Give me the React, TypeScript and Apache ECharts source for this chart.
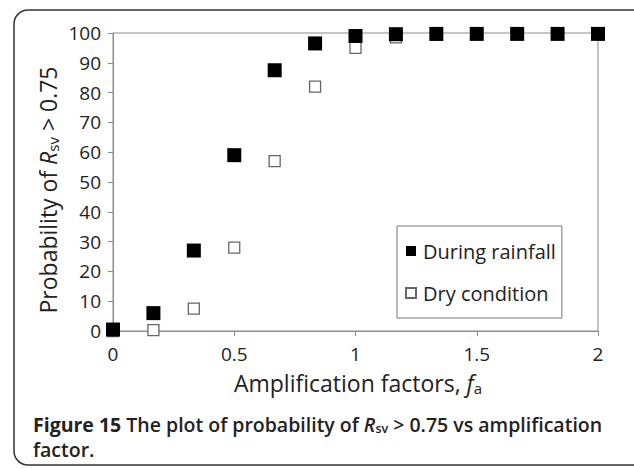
import React, { useEffect, useRef } from "react";
import * as echarts from "echarts";

const xValues = [0, 1 / 6, 2 / 6, 3 / 6, 4 / 6, 5 / 6, 1, 7 / 6, 8 / 6, 9 / 6, 10 / 6, 11 / 6, 2];
const rainfall = [0.5, 6, 27, 59, 87.5, 96.5, 99, 99.6, 99.7, 99.7, 99.7, 99.7, 99.7];
const dry = [0, 0.3, 7.5, 28, 57, 82, 95, 98.5, 99.5, 99.7, 99.7, 99.7, 99.7];
const xTicks = [0, 0.5, 1, 1.5, 2];
const seriesNames = ["During rainfall", "Dry condition"];

const FONT = "'Open Sans', 'Noto Sans', sans-serif";

export default function App() {
  const ref = useRef<HTMLDivElement>(null);
  useEffect(() => {
    if (!ref.current) return;
    const chart = echarts.init(ref.current, null, { renderer: "svg" });
    const option: any = {
      animation: false,
      backgroundColor: "#fff",
      textStyle: { fontFamily: FONT },
      grid: {
        left: 113,
        right: 36,
        top: 33,
        bottom: 138,
        show: true,
        borderColor: "#8c8c8c",
        borderWidth: 1,
        backgroundColor: "transparent",
      },
      xAxis: {
        type: "value",
        min: 0,
        max: 2,
        interval: 0.5,
        axisLine: { show: true, lineStyle: { color: "#8c8c8c", width: 1 } },
        axisTick: { show: true, length: 5, inside: false, lineStyle: { color: "#8c8c8c" } },
        splitLine: { show: false },
        axisLabel: {
          fontSize: 19,
          color: "#222",
          margin: 13,
          fontFamily: FONT,
          formatter: (v: number) => (xTicks.includes(v) ? String(v) : ""),
        },
      },
      yAxis: {
        type: "value",
        min: 0,
        max: 100,
        interval: 10,
        axisLine: { show: true, lineStyle: { color: "#8c8c8c", width: 1 } },
        axisTick: { show: true, length: 5, inside: false, lineStyle: { color: "#8c8c8c" } },
        splitLine: { show: false },
        axisLabel: { fontSize: 19, color: "#222", margin: 12, fontFamily: FONT },
      },
      legend: {
        orient: "vertical",
        left: 397,
        top: 226,
        padding: [15, 6, 15, 8],
        itemGap: 22,
        itemWidth: 10,
        itemHeight: 10,
        borderColor: "#777",
        borderWidth: 1,
        backgroundColor: "#fff",
        textStyle: { fontSize: 20, color: "#222", fontFamily: FONT, padding: [0, 0, 0, 2] },
        data: [
          { name: seriesNames[0], icon: "rect" },
          { name: seriesNames[1], icon: "rect" },
        ],
      },
      series: [
        {
          name: seriesNames[1],
          type: "scatter",
          symbol: "rect",
          symbolSize: 11,
          z: 2,
          clip: false,
          itemStyle: { color: "#fff", borderColor: "#666", borderWidth: 1.3, opacity: 1 },
          data: xValues.map((x, i) => [x, dry[i]]),
        },
        {
          name: seriesNames[0],
          type: "scatter",
          symbol: "rect",
          symbolSize: 14,
          z: 3,
          clip: false,
          itemStyle: { color: "#000", opacity: 1 },
          data: xValues.map((x, i) => [x, rainfall[i]]),
        },
      ],
      graphic: [
        {
          type: "rect",
          shape: { x: 14, y: 10, width: 660, height: 455, r: 14 },
          style: { fill: "none", stroke: "#333", lineWidth: 1.5 },
          z: -10,
        },
        {
          type: "text",
          x: 48,
          y: 190,
          rotation: Math.PI / 2,
          style: {
            text: "{a|Probability of }{i|R}{s|sv}{a| > 0.75}",
            align: "center",
            verticalAlign: "middle",
            fill: "#222",
            rich: {
              a: { fontSize: 23, fontFamily: FONT, fill: "#222" },
              i: { fontSize: 23, fontFamily: FONT, fontStyle: "italic", fill: "#222" },
              s: { fontSize: 15, fontFamily: FONT, fill: "#222", padding: [10, 0, 0, 0] },
            },
          },
        },
        {
          type: "text",
          x: 358,
          y: 383,
          style: {
            text: "{a|Amplification factors, }{i|f}{s|a}",
            align: "center",
            verticalAlign: "middle",
            fill: "#222",
            rich: {
              a: { fontSize: 23, fontFamily: FONT, fill: "#222" },
              i: { fontSize: 23, fontFamily: FONT, fontStyle: "italic", fill: "#222" },
              s: { fontSize: 15, fontFamily: FONT, fill: "#222", padding: [10, 0, 0, 0] },
            },
          },
        },
        {
          type: "text",
          x: 33,
          y: 424,
          style: {
            text: "{b|Figure 15 }{c|The plot of probability of }{ci|R}{cs|sv}{c| > 0.75 vs amplification}",
            align: "left",
            verticalAlign: "middle",
            fill: "#222",
            rich: {
              b: { fontSize: 19.5, fontFamily: FONT, fontWeight: "bold", fill: "#222" },
              c: { fontSize: 19.5, fontFamily: FONT, fontWeight: 600, fill: "#222" },
              ci: { fontSize: 19.5, fontFamily: FONT, fontWeight: 600, fontStyle: "italic", fill: "#222" },
              cs: { fontSize: 12.5, fontFamily: FONT, fontWeight: 600, fill: "#222", padding: [8, 0, 0, 0] },
            },
          },
        },
        {
          type: "text",
          x: 33,
          y: 449,
          style: {
            text: "factor.",
            align: "left",
            verticalAlign: "middle",
            fill: "#222",
            font: `600 19.5px ${FONT}`,
          },
        },
      ],
    };
    chart.setOption(option);
    return () => chart.dispose();
  }, []);
  return (
    <div
      ref={ref}
      style={{ position: "fixed", left: 0, top: 0, width: 634, height: 469 }}
    />
  );
}
